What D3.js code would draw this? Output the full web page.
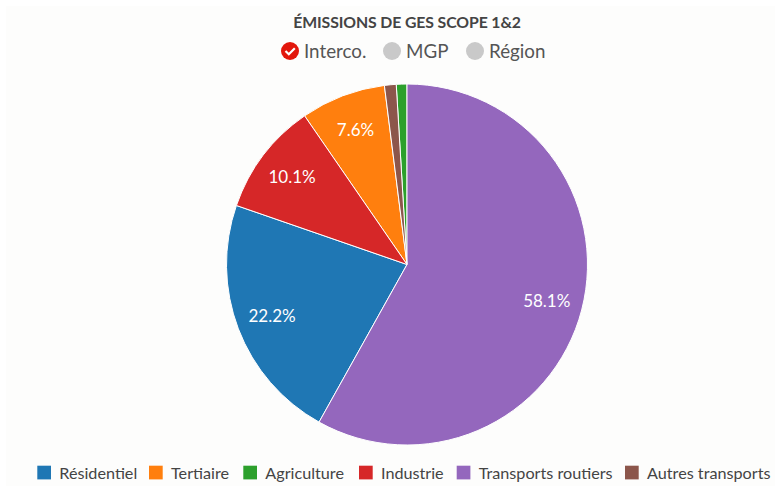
<!DOCTYPE html>
<html><head><meta charset="utf-8">
<script src="https://cdn.jsdelivr.net/npm/d3@7"></script>
<style>html,body{margin:0;padding:0;background:#fff}svg{display:block}text{font-family:Lato,sans-serif}</style>
</head><body><svg id="c" width="781" height="490"></svg>
<script>
const categories=["Résidentiel","Tertiaire","Agriculture","Industrie","Transports routiers","Autres transports"];
const values=[22.2,7.6,0.95,10.1,58.1,1.05];
const colors=["#1f77b4","#ff7f0e","#2ca02c","#d62728","#9467bd","#8c564b"];
const labels=["22.2%","7.6%","","10.1%","58.1%",""];
const toggles=["Interco.","MGP","Région"];
const title="ÉMISSIONS DE GES SCOPE 1&2";
const svg=d3.select("#c");
svg.append("rect").attr("x",6).attr("y",6).attr("width",769).attr("height",480).attr("fill","#fdfdfc");
svg.append("text").attr("x",407).attr("y",28).attr("text-anchor","middle").attr("font-size",15.8).attr("font-weight",700).attr("fill","#444").attr("letter-spacing",-0.1).text(title);
const tx=[290,392,475];
toggles.forEach((t,i)=>{
  svg.append("circle").attr("cx",tx[i]).attr("cy",51).attr("r",9).attr("fill",i==0?"#e2170c":"#c9c9c9");
  if(i==0)svg.append("path").attr("d","M285.5 51l3.3 3.2 6-6").attr("fill","none").attr("stroke","#fff").attr("stroke-width",2.2);
  svg.append("text").attr("x",tx[i]+14).attr("y",57.5).attr("font-size",18.8).attr("fill","#555").text(t);
});
const data=categories.map((c,i)=>({c,v:values[i],col:colors[i],lab:labels[i]}));
const pie=d3.pie().value(d=>d.v).sort((a,b)=>b.v-a.v);
const R=180.5;
const arc=d3.arc().innerRadius(0).outerRadius(R);
const lab=d3.arc().innerRadius(R*0.8).outerRadius(R*0.8);
const g=svg.append("g").attr("transform","translate(407,264.5)");
const a=pie(data);
g.selectAll("path").data(a).join("path").attr("d",arc).attr("fill",d=>d.data.col).attr("stroke","#fff").attr("stroke-width",1);
g.selectAll("text").data(a).join("text").attr("transform",d=>`translate(${lab.centroid(d)})`).attr("text-anchor","middle").attr("dy","0.35em").attr("font-size",17).attr("fill","#fff").text(d=>d.data.lab);
const lx=[37.3,149,243.3,359,456.7,625];
categories.forEach((c,i)=>{
  svg.append("rect").attr("x",lx[i]).attr("y",465.7).attr("width",13.7).attr("height",13.7).attr("fill",colors[i]);
  svg.append("text").attr("x",lx[i]+22).attr("y",479.3).attr("font-size",16.2).attr("fill","#444").text(c);
});
</script></body></html>
